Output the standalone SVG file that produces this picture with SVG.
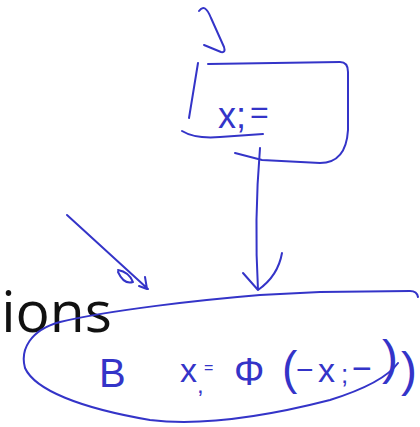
<svg xmlns="http://www.w3.org/2000/svg" width="420" height="427" viewBox="0 0 420 427">
<style>
.ink{fill:none;stroke:#3434c8;stroke-width:2;stroke-linecap:round;stroke-linejoin:round}
.hw{fill:#3434c8;font-family:"Liberation Sans",sans-serif;font-weight:normal}
.lbl{fill:#111;font-family:"Open Sans","Liberation Sans",sans-serif}
</style>
<rect width="420" height="427" fill="#fff"/>
<text class="lbl" x="112" y="332" font-size="57" text-anchor="end">ions</text>
<g id="connectors">
<path class="ink" d="M199,11 C203,5 207,8 211,18 L224,47 Q226,53 221,52 L204,45"/>
<path class="ink" d="M260,148 Q254,220 258,290 M243,273 L258,290 M282,253 Q278,276 258,290"/>
<path class="ink" d="M67,215 L148,289 M118,270 Q129,272 133,282 Q124,285 118,272 M145,277 L147,289 L139,286"/>
</g>
<g id="node-assign">
<path class="ink" d="M208,64 L340,62 Q348,62 348,72 L348,130 Q346,163 320,163 L262,160 L235,153"/>
<path class="ink" d="M198,63 L189,118"/>
<path class="ink" d="M182,131 Q195,139 220,137 L263,134"/>
<text class="hw" font-size="36" x="218" y="128">x;<tspan font-size="32" dx="4" dy="-5">=</tspan></text>
</g>
<g id="node-phi">
<path class="ink" d="M418,297 Q417,291 410,291 L320,292 L260,295 C200,300 110,310 60,322 C30,330 20,350 25,368 C35,390 80,408 150,420 C200,426 260,418 330,400 C365,389 388,377 398,363"/>
<text class="hw" font-size="40" x="99" y="387">B<tspan font-size="34" x="180" y="382">x</tspan><tspan font-size="24" x="197" y="393">,</tspan><tspan font-size="16" x="204" y="373">=</tspan><tspan font-size="38" x="234" y="385">Φ</tspan><tspan font-size="46" x="282" y="384">(</tspan><tspan font-size="30" x="296" y="380">−</tspan><tspan font-size="34" x="318" y="382">x</tspan><tspan font-size="26" x="341" y="383">;</tspan><tspan font-size="34" x="352" y="380">−</tspan><tspan font-size="48" x="382" y="374">)</tspan><tspan font-size="48" x="401" y="386">)</tspan></text>
</g>
</svg>
